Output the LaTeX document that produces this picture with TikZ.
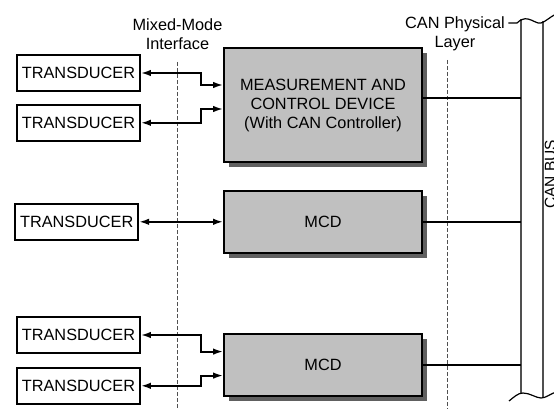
\documentclass[tikz,border=0pt]{standalone}
\usepackage{fontspec}
\setmainfont{Liberation Sans}
\usetikzlibrary{positioning,arrows.meta,shadows}
\definecolor{boxgray}{RGB}{192,192,192}
\definecolor{shadegray}{RGB}{96,96,96}
\definecolor{busgray}{RGB}{80,80,80}

\begin{document}
\begin{tikzpicture}[x=1pt, y=-1pt, node distance=12pt,
    font=\fontsize{16.3}{19}\selectfont,
    tdbox/.style={draw, line width=1.8pt, minimum width=123pt, minimum height=36pt, inner sep=0pt},
    mcdbox/.style={draw, line width=1.8pt, fill=boxgray, minimum width=198pt, align=center,
      general shadow={shadow xshift=5pt, shadow yshift=-5pt, fill=shadegray}},
    link/.style={line width=1.8pt, {Latex[length=10pt,width=6.5pt]}-{Latex[length=10pt,width=6.5pt]}},
    buswire/.style={line width=1.8pt},
    busline/.style={draw=busgray, line width=1.4pt},
    busend/.style={line width=1.2pt},
    iface/.style={draw=busgray, line width=0.9pt, dash pattern=on 4pt off 2pt}]
    \useasboundingbox (0,0) rectangle (554,409);

    \node[mcdbox, minimum height=114pt] (mcd1) at (323,105) {MEASUREMENT AND\\CONTROL DEVICE\\(With CAN Controller)};
    \node[mcdbox, minimum height=62pt, below=27pt of mcd1] (mcd2) {MCD};
    \node[mcdbox, minimum height=62pt, below=79pt of mcd2] (mcd3) {MCD};

    \node[tdbox] (td1) at (78.5,73) {TRANSDUCER};
    \node[tdbox, below=of td1] (td2) {TRANSDUCER};
    \node[tdbox, left=84pt of mcd2] (td3) {TRANSDUCER};
    \node[tdbox] (td4) at (78.5,335) {TRANSDUCER};
    \node[tdbox, below=13pt of td4] (td5) {TRANSDUCER};

    \node[align=center] (mmlbl) at (177.5,34) {Mixed-Mode\\Interface};
    \node[align=center] (canlbl) at (455,34) {CAN Physical\\Layer};
    \node[rotate=90, anchor=north, inner sep=0pt, font=\fontsize{15.5}{18}\selectfont] (buslbl) at (544.5,174.5) {CAN BUS};

    \coordinate (bend) at (201,0);
    \coordinate (mmtop) at (177,62);
    \coordinate (mmbot) at (177,409);
    \coordinate (cptop) at (447,60);
    \coordinate (cpbot) at (447,409);
    \coordinate (busTL) at (521,19);
    \coordinate (busBL) at (521,393);
    \coordinate (busTR) at (543,21);
    \coordinate (busBR) at (543,398);

    \draw[iface] (mmtop) -- (mmbot);
    \draw[iface] (cptop) -- (cpbot);

    \draw[link] (td1.east) -- (td1.east -| bend) |- ([yshift=20pt]mcd1.west);
    \draw[link] (td2.east) -- (td2.east -| bend) |- ([yshift=-4pt]mcd1.west);
    \draw[link] (td3.east) -- (mcd2.west);
    \draw[link] (td4.east) -- (td4.east -| bend) |- ([yshift=13pt]mcd3.west);
    \draw[link] (td5.east) -- (td5.east -| bend) |- ([yshift=-11pt]mcd3.west);

    \draw[busline] (busTL) -- (busBL);
    \draw[busline] (busTR) -- (busBR);

    \draw[buswire] (mcd1.east |- 0,98) -- (busTL |- 0,98);
    \draw[buswire] (mcd2.east) -- (mcd2.east -| busTL);
    \draw[buswire] (mcd3.east) -- (mcd3.east -| busTL);

    \draw[busend] (canlbl.east |- 0,23) -- (517,23) .. controls (520,20) and (524,18) .. (528,19)
      .. controls (533,20) and (537,24) .. (541,23) .. controls (545,22) and (550,17) .. (556,14);
    \draw[busend] (509,401) .. controls (514,397) and (518,393) .. (523,393)
      .. controls (530,393) and (536,398) .. (541,398) .. controls (546,398) and (550,394) .. (556,392);
\end{tikzpicture}
\end{document}
